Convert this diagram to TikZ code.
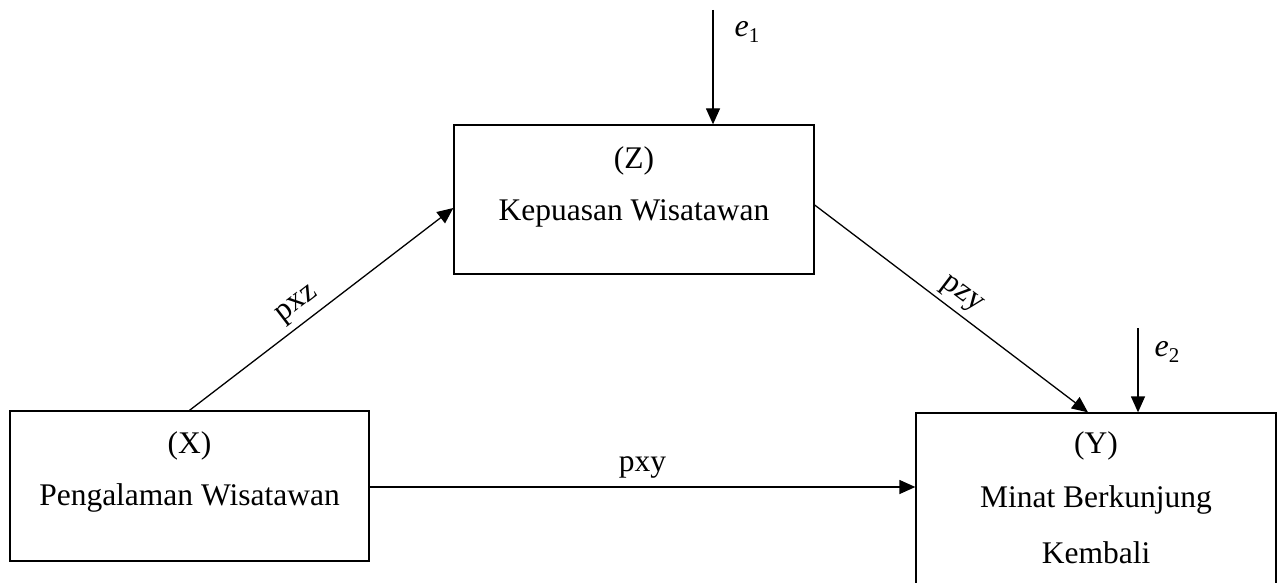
\documentclass[tikz,border=0pt]{standalone}
\usepackage{fontspec}
\setmainfont{Liberation Serif}
\usetikzlibrary{arrows.meta,calc}
\begin{document}
\begin{tikzpicture}[x=1pt,y=-1pt,
  box/.style={draw,line width=1.3pt,rectangle,inner sep=0pt},
  lbl/.style={font=\fontsize{31.5}{36}\selectfont,inner sep=0pt,anchor=base},
  conn/.style={line width=1.3pt,-{Triangle[length=16pt,width=14pt]}},
  elbl/.style={font=\fontsize{32}{36}\selectfont,inner sep=0pt}]
\useasboundingbox (0,0) rectangle (1279,583);
\clip (0,0) rectangle (1279,583);
% boxes
\node[box,minimum width=360pt,minimum height=149pt] (Z) at (634,199.5) {};
\node[box,minimum width=359pt,minimum height=150pt] (X) at (189.5,486) {};
\node[box,minimum width=360pt,minimum height=200pt] (Y) at (1096,513) {};
% texts
\node[lbl] (zt1) at (634,168) {(Z)};
\node[lbl] (zt2) at (634,220) {Kepuasan Wisatawan};
\node[lbl] (xt1) at (189.5,453) {(X)};
\node[lbl] (xt2) at (189.5,505) {Pengalaman Wisatawan};
\node[lbl] (yt1) at (1096,453) {(Y)};
\node[lbl] (yt2) at (1096,507) {Minat Berkunjung};
\node[lbl] (yt3) at (1096,563) {Kembali};
% error terms
\coordinate (e1s) at (713,10);
\coordinate (e2s) at (1138,328);
\node[elbl] (e1) at (747,32) {\textit{e}\raisebox{-0.35ex}{\fontsize{21}{23}\selectfont 1}};
\node[elbl] (e2) at (1167,352) {\textit{e}\raisebox{-0.35ex}{\fontsize{21}{23}\selectfont 2}};
\draw[conn] (e1s) -- (e1s |- Z.north);
\draw[conn] (e2s) -- (e2s |- Y.north);
% paths
\draw[conn] (X.north) -- ($(Z.west)+(0,8.5)$) node[pos=0.45,lbl,anchor=south,rotate=37.4,yshift=6pt] (pxz) {pxz};
\draw[conn] ($(Z.east)+(0,5.5)$) -- (Y.north -| 1088,0) node[pos=0.5,lbl,anchor=south,rotate=-37.2,yshift=5pt] (pzy) {pzy};
\draw[conn] (X.east |- 0,487) -- (Y.west |- 0,487) node[midway,lbl,anchor=south,yshift=8pt] (pxy) {pxy};
\end{tikzpicture}
\end{document}
